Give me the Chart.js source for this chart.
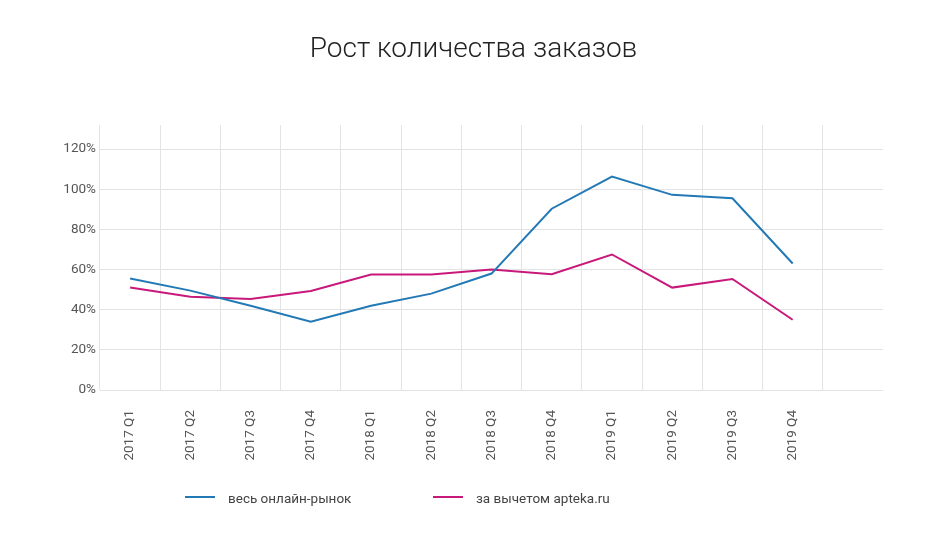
<!DOCTYPE html>
<html>
<head>
<meta charset="utf-8">
<script src="https://cdn.jsdelivr.net/npm/chart.js@4.4.1/dist/chart.umd.min.js"></script>
<style>
    body { margin: 0; background: #fff; }
    #wrap { position: relative; width: 947px; height: 543px; font-family: Roboto, sans-serif; }
    #title { position: absolute; left: 0; top: 31px; width: 947px; text-align: center; font-size: 28px; font-weight: 300; color: #222; }
    .legend-item { position: absolute; top: 489px; font-size: 13.5px; color: #444; line-height: 18px; }
    .legend-line { position: absolute; top: 7px; width: 30px; height: 2px; }
</style>
</head>
<body>
<div id="wrap">
    <canvas id="ordersChart"></canvas>
    <div id="title">Рост количества заказов</div>
    <div class="legend-item" style="left:185px"><span class="legend-line" style="background:#2379b5"></span><span style="margin-left:43px">весь онлайн-рынок</span></div>
    <div class="legend-item" style="left:433px"><span class="legend-line" style="background:#c8197b"></span><span style="margin-left:43px">за вычетом apteka.ru</span></div>
</div>
<script>
// Кварталы
const quarters = ['2017 Q1', '2017 Q2', '2017 Q3', '2017 Q4', '2018 Q1', '2018 Q2', '2018 Q3', '2018 Q4', '2019 Q1', '2019 Q2', '2019 Q3', '2019 Q4'];
// Рост, %
const totalMarket = [55.5, 49.5, 42, 34, 42, 48, 58, 90.3, 106.3, 97.2, 95.5, 63];
const withoutApteka = [51, 46.5, 45.3, 49.3, 57.5, 57.5, 60, 57.7, 67.5, 51, 55.3, 35];
const yTicks = [0, 20, 40, 60, 80, 100, 120];

const labels = [...quarters, ''];
const gridColor = '#e3e3e3';
const tickColor = '#555';

const ctx = document.getElementById('ordersChart').getContext('2d');
new Chart(ctx, {
    type: 'line',
    data: {
        labels: labels,
        datasets: [{
            label: 'весь онлайн-рынок',
            data: totalMarket,
            borderColor: '#2379b5',
            borderWidth: 2,
            pointRadius: 0,
            tension: 0
        }, {
            label: 'за вычетом apteka.ru',
            data: withoutApteka,
            borderColor: '#c8197b',
            borderWidth: 2,
            pointRadius: 0,
            tension: 0
        }]
    },
    options: {
        responsive: true,
        maintainAspectRatio: false,
        animation: false,
        layout: {
            padding: { top: 125, right: 64, bottom: 53, left: 0 }
        },
        plugins: {
            legend: { display: false },
            title: { display: false },
            tooltip: { enabled: false }
        },
        scales: {
            x: {
                offset: true,
                border: { display: false },
                grid: {
                    offset: true,
                    drawTicks: false,
                    color: (c) => c.type === 'tick' ? gridColor : 'transparent'
                },
                ticks: {
                    minRotation: 90,
                    maxRotation: 90,
                    padding: 20,
                    color: tickColor,
                    font: { family: 'Roboto', size: 13.5 }
                },
                afterFit: (scale) => { scale.height = 100; }
            },
            y: {
                min: 0,
                max: 132,
                border: { display: false },
                grid: { drawTicks: false, color: gridColor },
                ticks: {
                    stepSize: 20,
                    padding: 4,
                    color: tickColor,
                    font: { family: 'Roboto', size: 13.5 },
                    callback: (v) => v + '%'
                },
                afterBuildTicks: (scale) => {
                    scale.ticks = yTicks.map(v => ({ value: v }));
                },
                afterFit: (scale) => { scale.width = 100; }
            }
        }
    }
});
</script>
</body>
</html>
